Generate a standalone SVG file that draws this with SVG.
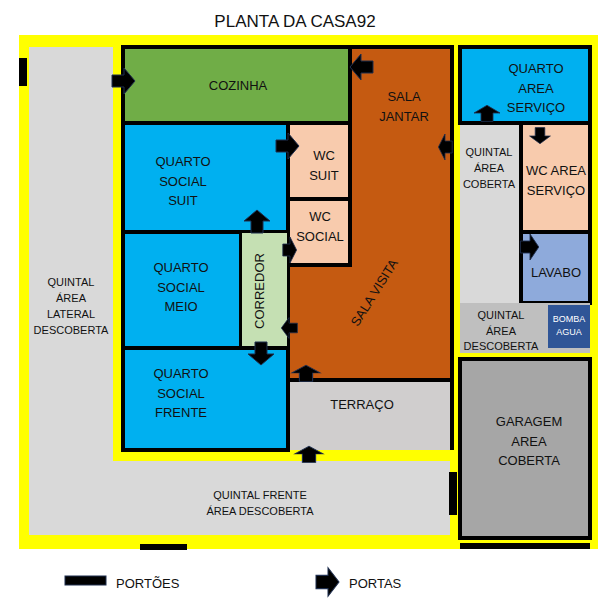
<svg xmlns="http://www.w3.org/2000/svg" xmlns:xlink="http://www.w3.org/1999/xlink" width="612" height="606" viewBox="0 0 612 606">
<style>
text{font-family:"Liberation Sans",Arial,sans-serif;font-size:13px;fill:#111;text-anchor:middle}
.w{stroke:#000;stroke-width:4}
.s{font-size:11px}
.g{fill:#000}
</style>
<defs>
<path id="ar" d="M-12,-6 H0 V-13 L11,0 L0,13 V6 H-12 Z" fill="#000" stroke="#1f2f4f" stroke-width="1"/>
</defs>
<rect width="612" height="606" fill="#fff"/>
<text x="295" y="27" style="font-size:17px">PLANTA DA CASA92</text>
<g id="lot">
<rect x="19" y="35" width="579" height="514" fill="#ffff00"/>
<rect x="29" y="47" width="84" height="488" fill="#d9d9d9"/>
<rect x="29" y="461" width="421" height="74" fill="#d9d9d9"/>
</g>
<g id="quintal-lateral"><text x="71" y="286" class="s">QUINTAL</text><text x="71" y="302" class="s">ÁREA</text><text x="71" y="318" class="s">LATERAL</text><text x="71" y="334" class="s">DESCOBERTA</text></g>
<g id="quintal-frente"><text x="260" y="499" class="s">QUINTAL FRENTE</text><text x="260" y="515" class="s">ÁREA DESCOBERTA</text></g>
<g id="cozinha"><rect x="123" y="47" width="227" height="76" fill="#70ad47" class="w"/><text x="238" y="90">COZINHA</text></g>
<g id="sala"><path d="M350,47 H452 V380 H288 V265 H350 Z" fill="#c55a11" class="w"/>
<text x="404" y="101">SALA</text><text x="404" y="121">JANTAR</text>
<text x="0" y="0" transform="translate(378,295) rotate(-58)">SALA VISITA</text></g>
<g id="wc-suit"><rect x="288" y="123" width="62" height="76" fill="#f8cbad" class="w"/><text x="324" y="160">WC</text><text x="324" y="180">SUIT</text></g>
<g id="wc-social"><rect x="288" y="199" width="62" height="66" fill="#f8cbad" class="w"/><text x="320" y="221">WC</text><text x="320" y="241">SOCIAL</text></g>
<g id="quarto-suit"><rect x="123" y="123" width="165" height="109" fill="#00b0f0" class="w"/><text x="183" y="166">QUARTO</text><text x="183" y="186">SOCIAL</text><text x="183" y="205">SUIT</text></g>
<g id="quarto-meio"><rect x="123" y="232" width="118" height="116" fill="#00b0f0" class="w"/><text x="181" y="272">QUARTO</text><text x="181" y="292">SOCIAL</text><text x="181" y="311">MEIO</text></g>
<g id="corredor"><rect x="241" y="232" width="47" height="116" fill="#c5e0b3" stroke="#000" stroke-width="2"/><text x="0" y="0" transform="translate(264,291) rotate(-90)">CORREDOR</text></g>
<g id="quarto-frente"><rect x="123" y="348" width="165" height="102" fill="#00b0f0" class="w"/><text x="181" y="378">QUARTO</text><text x="181" y="398">SOCIAL</text><text x="181" y="417">FRENTE</text></g>
<g id="terraco"><path d="M288,380 V450 M452,380 V450" stroke="#000" stroke-width="4"/><rect x="290" y="382" width="160" height="68" fill="#d0cece"/><text x="362" y="409">TERRAÇO</text></g>
<g id="quarto-servico"><rect x="460" y="47" width="130" height="76" fill="#00b0f0" class="w"/><text x="536" y="73">QUARTO</text><text x="536" y="93">AREA</text><text x="536" y="112">SERVIÇO</text></g>
<g id="quintal-coberta"><rect x="460" y="125" width="61" height="178" fill="#d9d9d9"/><text x="489" y="156" class="s">QUINTAL</text><text x="489" y="172" class="s">ÁREA</text><text x="489" y="188" class="s">COBERTA</text></g>
<g id="wc-servico"><rect x="521" y="123" width="69" height="109" fill="#f8cbad" class="w" stroke-width="3"/><text x="556" y="175">WC AREA</text><text x="556" y="195">SERVIÇO</text></g>
<g id="lavabo"><rect x="521" y="232" width="69" height="71" fill="#8eaadb" class="w" stroke-width="3"/><text x="556" y="277">LAVABO</text></g>
<g id="quintal-descoberta"><rect x="460" y="303" width="130" height="50" fill="#bfbfbf"/><text x="501" y="319" class="s">QUINTAL</text><text x="501" y="335" class="s">ÁREA</text><text x="501" y="350" class="s">DESCOBERTA</text></g>
<g id="bomba"><rect x="548" y="305" width="42" height="43" fill="#2f5597"/><text x="569" y="322" style="font-size:9px;fill:#fff">BOMBA</text><text x="569" y="335" style="font-size:9px;fill:#fff">AGUA</text></g>
<g id="garagem"><rect x="460" y="359" width="130" height="179" fill="#a6a6a6" class="w"/><text x="529" y="426">GARAGEM</text><text x="529" y="446">AREA</text><text x="529" y="465">COBERTA</text></g>
<g id="gates" class="g">
<rect x="19" y="58" width="8" height="28"/><rect x="449" y="472" width="8" height="43"/><rect x="140" y="544" width="47" height="6"/><rect x="460" y="543" width="130" height="6"/>
</g>
<g id="doors">
<use xlink:href="#ar" transform="translate(124,81)"/>
<use xlink:href="#ar" transform="translate(361,67) rotate(180)"/>
<use xlink:href="#ar" transform="translate(445,147) rotate(180) scale(0.6,1)"/>
<use xlink:href="#ar" transform="translate(288,146)"/>
<use xlink:href="#ar" transform="translate(257,221) rotate(-90)"/>
<use xlink:href="#ar" transform="translate(290,250) scale(0.6,1)"/>
<use xlink:href="#ar" transform="translate(289,328) rotate(180) scale(0.7,0.8)"/>
<use xlink:href="#ar" transform="translate(261,354) rotate(90)"/>
<use xlink:href="#ar" transform="translate(306,373) rotate(-90) scale(0.7,1.1)"/>
<use xlink:href="#ar" transform="translate(309,454) rotate(-90) scale(0.7,1.1)"/>
<use xlink:href="#ar" transform="translate(487,113) rotate(-90) scale(0.7,1)"/>
<use xlink:href="#ar" transform="translate(540,136) rotate(90) scale(0.7,0.8)"/>
<use xlink:href="#ar" transform="translate(530,247) scale(0.8,1)"/>
</g>
<g id="legend">
<rect x="65" y="576" width="41" height="9" fill="#000" stroke="#1f2f4f"/>
<text x="116" y="588" style="text-anchor:start">PORTÕES</text>
<use xlink:href="#ar" transform="translate(328,582) scale(1,1.1)"/>
<text x="349" y="588" style="text-anchor:start">PORTAS</text>
</g>
</svg>
